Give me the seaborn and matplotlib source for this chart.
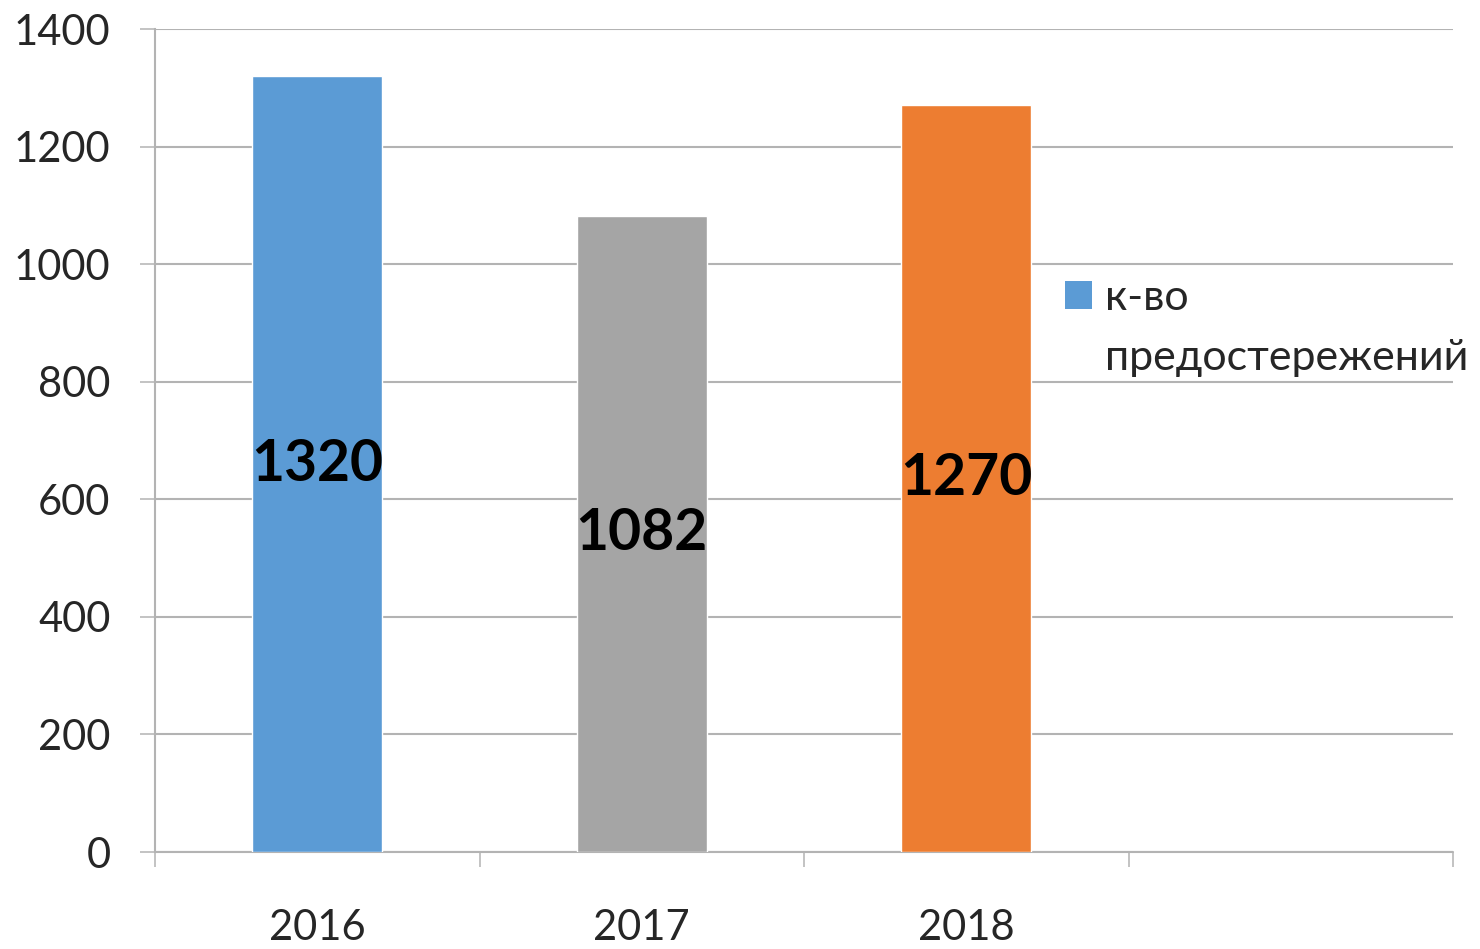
import numpy as np
import pandas as pd
import seaborn as sns
import matplotlib.pyplot as plt
from matplotlib.patches import Patch

years = ['2016', '2017', '2018']
counts = [1320, 1082, 1270]
bar_colors = ['#5B9BD5', '#A5A5A5', '#ED7D31']
series_lines = ['к-во', 'предостережений']  # one legend label, wrapped in two lines
y_ticks = [0, 200, 400, 600, 800, 1000, 1200, 1400]

df = pd.DataFrame({'year': years, 'count': counts})

sns.set_style('white')
plt.rcParams['font.family'] = ['Lato', 'DejaVu Sans']

fig = plt.figure(figsize=(14.8, 9.49), dpi=100)
ax = fig.add_axes([155/1480, 1 - 852/949, (1453-155)/1480, (852-29)/949])

sns.barplot(data=df, x='year', y='count', hue='year', palette=bar_colors,
            width=0.4, legend=False, saturation=1, ax=ax)

# empty 4th category slot like the original
ax.set_xlim(-0.5, 3.5)
ax.set_ylim(0, 1400)

grid_c = '#B3B3B3'
ax.set_yticks(y_ticks)
ax.yaxis.grid(True, color=grid_c, linewidth=1.5)
ax.set_axisbelow(True)
for s in ['top', 'right', 'bottom']:
    ax.spines[s].set_visible(False)
ax.spines['left'].set_color(grid_c)
ax.spines['left'].set_linewidth(1.5)
ax.axhline(0, color=grid_c, linewidth=1.5, zorder=0.5, clip_on=False)

ax.tick_params(axis='y', left=True, length=11, width=1.1, color=grid_c, pad=21, labelsize=30)

# ticks on category boundaries, labels at the centers
ax.set_xticks(np.arange(-0.5, 4.0, 1.0))
ax.set_xticklabels([])
ax.tick_params(axis='x', which='major', bottom=True, length=11, width=1.1, color=grid_c)
ax.set_xticks(range(len(years)), minor=True)
ax.set_xticklabels(years, minor=True)
ax.tick_params(axis='x', which='minor', bottom=True, length=0, pad=41, labelsize=30)

ax.set_xlabel('')
ax.set_ylabel('')

for i, v in enumerate(counts):
    ax.text(i, v / 2, str(v), ha='center', va='center',
            fontsize=41, fontweight='bold', color='black')

# second line gets an invisible handle so the text stays aligned
handles = [Patch(facecolor=bar_colors[0], edgecolor='none'),
           Patch(facecolor='none', edgecolor='none')]
ax.legend(handles, series_lines, loc='upper left', bbox_to_anchor=(0.701, 0.696),
          frameon=False, fontsize=31, handlelength=0.62, handleheight=0.62,
          handletextpad=0.32, borderaxespad=0, borderpad=0, labelspacing=0.5)

fig.savefig('out.png', dpi=100)
